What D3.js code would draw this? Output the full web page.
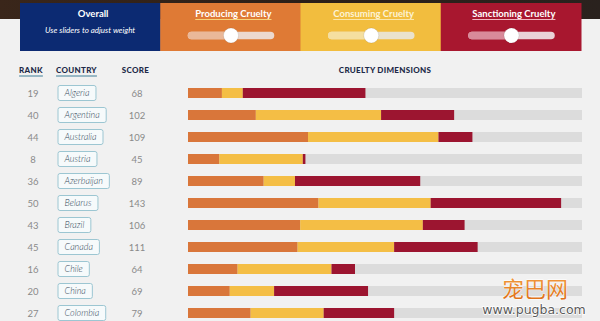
<!DOCTYPE html>
<html><head><meta charset="utf-8">
<script src="https://cdn.jsdelivr.net/npm/d3@7/dist/d3.min.js"></script>
<style>
html,body{margin:0;padding:0;background:#f1f1f1;}
svg{display:block;}
</style></head>
<body>
<svg id="chart" width="600" height="321"></svg>
<script>
const countries = ["Algeria","Argentina","Australia","Austria","Azerbaijan","Belarus","Brazil","Canada","Chile","China","Colombia"];
const ranks = [19,40,44,8,36,50,43,45,16,20,27];
const scores = [68,102,109,45,89,143,106,111,64,69,79];
const producing = [13,26,46,12,29,50,43,42,19,16,24];
const consuming = [8,48,50,32,12,43,47,37,36,17,28];
const sanctioning = [47,28,13,1,48,50,16,32,9,36,27];
const dimensions = ["Producing Cruelty","Consuming Cruelty","Sanctioning Cruelty"];
const sliderWeights = [0.5,0.5,0.5];
const maxScore = 151;

const svg = d3.select("#chart");
const W = 600, H = 321;
const font = "Lato, 'Open Sans', sans-serif";

// background
svg.append("rect").attr("width",W).attr("height",H).attr("fill","#f1f1f1");
const defs = svg.append("defs");
const pg = defs.append("linearGradient").attr("id","photo").attr("x1",0).attr("x2",1);
pg.append("stop").attr("offset","0").attr("stop-color","#3a261a");
pg.append("stop").attr("offset","0.5").attr("stop-color","#2c1f18");
pg.append("stop").attr("offset","1").attr("stop-color","#2a221e");
svg.append("rect").attr("x",0).attr("y",0).attr("width",W).attr("height",19).attr("fill","url(#photo)");

// header panels
const panelX = d3.scaleBand().domain(["Overall",...dimensions]).range([20,581]);
const panelColors = ["#0c2a72","#df7a35","#f2bd3e","#a8172f"];
const sliderFill = ["", "#eab899", "#f5dfa0", "#d98a9a"];
const sliderRest = ["", "#ecd9cf", "#eae2cc", "#ead3d8"];
const lineColors = ["", "#f7d27a", "#fbe6a8", "#f3b6c0"];
const panels = svg.append("g").selectAll("g").data(panelX.domain()).join("g")
  .attr("transform", d => `translate(${panelX(d)},3)`);
panels.append("rect").attr("width", panelX.bandwidth()+0.5).attr("height",48)
  .attr("fill",(d,i)=>panelColors[i]);
panels.append("text").attr("x", panelX.bandwidth()/2 + 3).attr("y",14)
  .attr("text-anchor","middle").attr("fill",(d,i)=> i===2 ? "#fdf3d6" : "#ffffff")
  .attr("font-family",font).attr("font-weight",700).attr("font-size",9.5)
  .text(d=>d)
  .each(function(d){ this.__w = this.getComputedTextLength(); });
panels.filter((d,i)=>i>0).append("line")
  .attr("x1", function(){ const w = d3.select(this.parentNode).select("text").node().__w; return panelX.bandwidth()/2 + 3 - w/2; })
  .attr("x2", function(){ const w = d3.select(this.parentNode).select("text").node().__w; return panelX.bandwidth()/2 + 3 + w/2; })
  .attr("y1",16.5).attr("y2",16.5)
  .attr("stroke",(d,i)=>lineColors[i+1]).attr("stroke-width",1);
panels.filter((d,i)=>i===0).append("text").attr("x", panelX.bandwidth()/2).attr("y",30)
  .attr("text-anchor","middle").attr("fill","#ffffff").attr("font-family",font)
  .attr("font-style","italic").attr("font-size",8).text("Use sliders to adjust weight");

const sl = d3.scaleLinear().domain([0,1]).range([27.5,114]);
const sliders = panels.filter((d,i)=>i>0);
sliders.append("rect").attr("x",sl(0)).attr("y",28.8).attr("width",sl(1)-sl(0)).attr("height",7.5).attr("rx",3.75)
  .attr("fill",(d,i)=>sliderRest[i+1]);
sliders.append("rect").attr("x",sl(0)).attr("y",28.8).attr("width",(d,i)=>sl(sliderWeights[i])-sl(0)).attr("height",7.5).attr("rx",3.75)
  .attr("fill",(d,i)=>sliderFill[i+1]);
sliders.append("circle").attr("cx",(d,i)=>sl(sliderWeights[i])).attr("cy",32.5).attr("r",7.5)
  .attr("fill","#ffffff").attr("stroke","rgba(0,0,0,0.12)").attr("stroke-width",0.8);

// column headers
const headColor = "#1d2a48";
const heads = [{t:"RANK",x:31,u:true},{t:"COUNTRY",x:76.5,u:true},{t:"SCORE",x:135.5,u:false},{t:"CRUELTY DIMENSIONS",x:385,u:false}];
const hg = svg.append("g").selectAll("g").data(heads).join("g");
hg.append("text").attr("x",d=>d.x).attr("y",73).attr("text-anchor","middle")
  .attr("font-family",font).attr("font-weight",900).attr("font-size",8)
  .attr("letter-spacing",0.3).attr("fill",headColor).text(d=>d.t)
  .each(function(d){ d.w = this.getComputedTextLength(); });
hg.filter(d=>d.u).append("line").attr("x1",d=>d.x-d.w/2).attr("x2",d=>d.x+d.w/2)
  .attr("y1",76).attr("y2",76).attr("stroke","#3f7f98").attr("stroke-width",1);

// rows
const y = d3.scaleBand().domain(countries).range([82,82+22*countries.length])
  .paddingInner(12/22).paddingOuter(6/22);
const x = d3.scaleLinear().domain([0,maxScore]).range([188,582]);

const rows = svg.append("g").selectAll("g").data(countries).join("g")
  .attr("transform", d => `translate(0,${y(d)})`);
const bh = y.bandwidth();

rows.append("text").attr("x",33).attr("y",bh/2+3.5).attr("text-anchor","middle")
  .attr("font-family",font).attr("font-size",9.5).attr("fill","#8a8a8a").text((d,i)=>ranks[i]);
rows.append("text").attr("x",137).attr("y",bh/2+3.5).attr("text-anchor","middle")
  .attr("font-family",font).attr("font-size",9.5).attr("fill","#8a8a8a").text((d,i)=>scores[i]);

const boxes = rows.append("g");
boxes.append("rect").attr("x",58).attr("y",bh/2-7.5).attr("height",15).attr("rx",2)
  .attr("fill","#f6fafb").attr("stroke","#9cc6d2").attr("stroke-width",1);
const boxText = boxes.append("text").attr("x",64.5).attr("y",bh/2+3.2)
  .attr("font-family",font).attr("font-style","italic").attr("font-weight",300)
  .attr("font-size",9).attr("fill","#34495a").text(d=>d);
boxText.each(function(d){
  const w = this.getComputedTextLength();
  d3.select(this.parentNode).select("rect").attr("width", w + 13);
});

// tracks
rows.append("rect").attr("x",x(0)).attr("y",0).attr("width",x(maxScore)-x(0)).attr("height",bh).attr("fill","#dcdcdc");

const series = [producing, consuming, sanctioning];
const barColors = ["#d9763a","#f4be45","#9c1530"];
rows.each(function(d,i){
  let acc = 0;
  const g = d3.select(this);
  series.forEach((s,k)=>{
    g.append("rect").attr("x",x(acc)).attr("y",0).attr("width",x(acc+s[i])-x(acc)).attr("height",bh)
      .attr("fill",barColors[k]);
    acc += s[i];
  });
});

// watermark
const wg = defs.append("linearGradient").attr("id","wm").attr("x1",0).attr("x2",0).attr("y1",0).attr("y2",1);
wg.append("stop").attr("offset","0").attr("stop-color","#f6a445");
wg.append("stop").attr("offset","1").attr("stop-color","#dc6a14");
svg.append("text").attr("x",535).attr("y",297).attr("text-anchor","middle")
  .attr("font-family","'Noto Sans CJK SC', sans-serif").attr("font-size",22)
  .attr("fill","url(#wm)").attr("stroke","#ffffff").attr("stroke-width",0.8).attr("paint-order","stroke")
  .text("宠巴网");
svg.append("text").attr("x",534).attr("y",314).attr("text-anchor","middle")
  .attr("font-family","'DejaVu Sans', sans-serif").attr("font-size",12.5)
  .attr("fill","#5a5a5a").attr("stroke","#ffffff").attr("stroke-width",1.5).attr("paint-order","stroke")
  .text("www.pugba.com");
</script>
</body></html>
